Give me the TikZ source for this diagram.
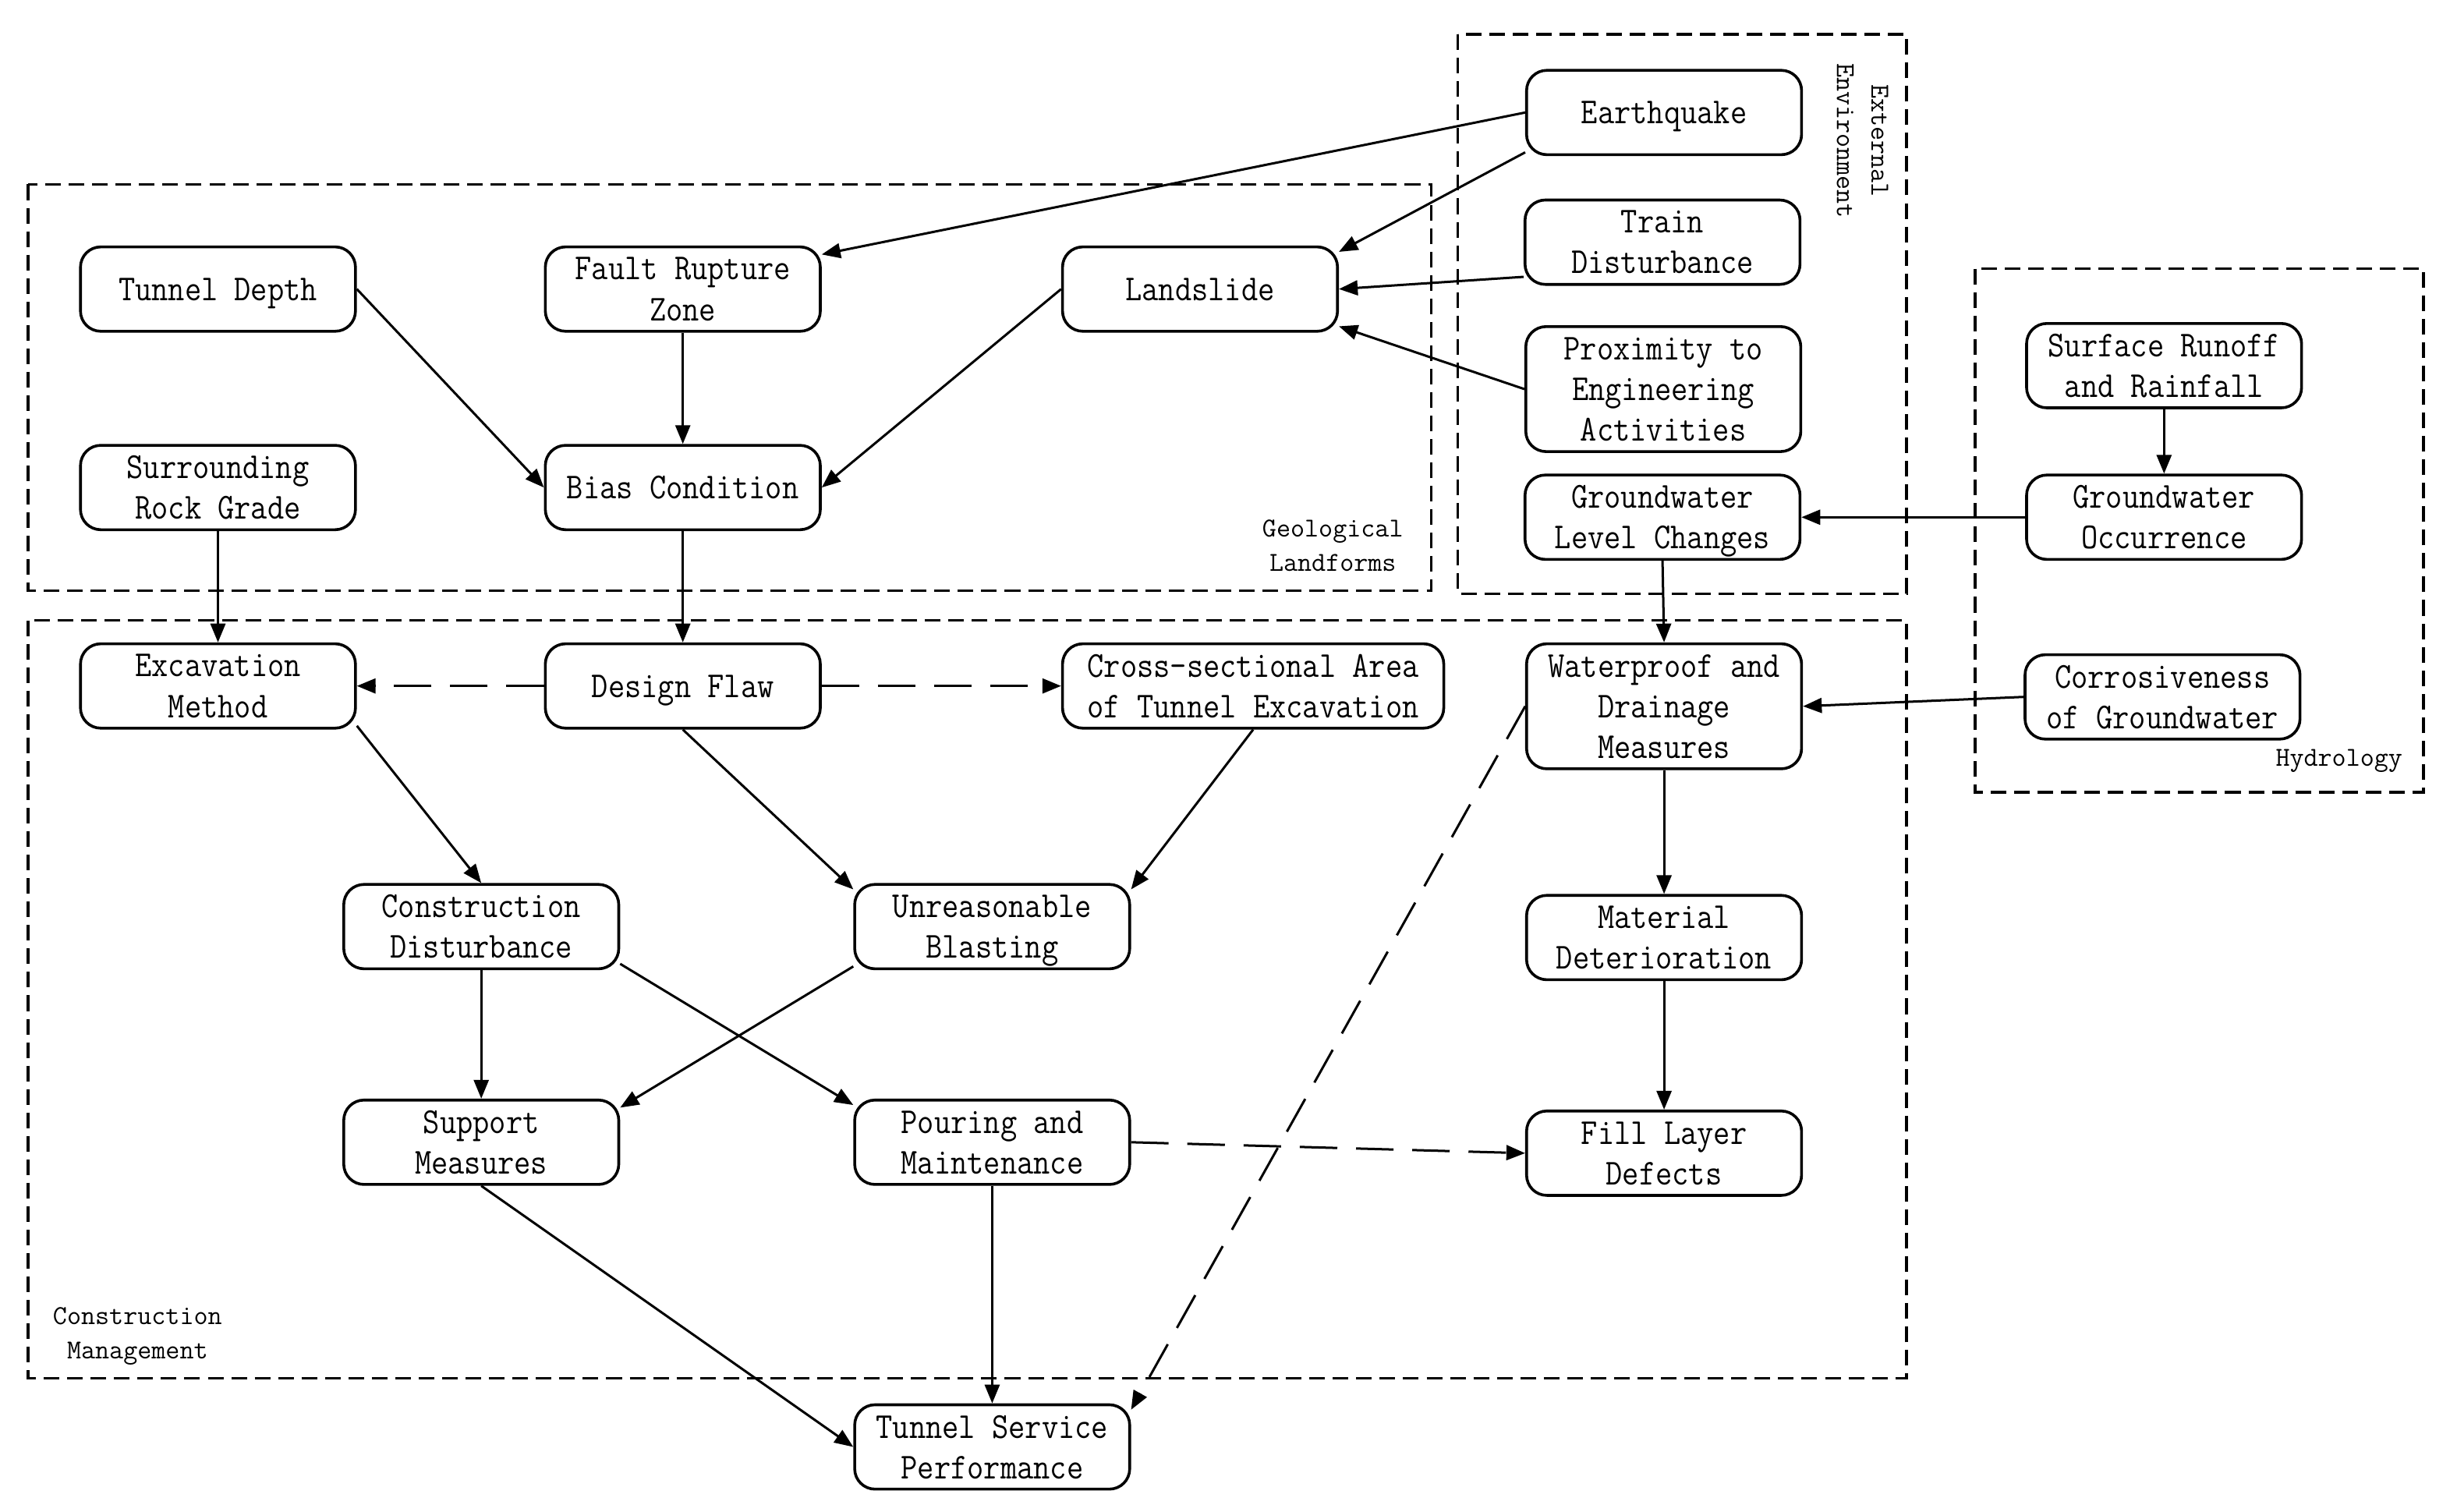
\documentclass[tikz,border=0pt]{standalone}
\usepackage{fontspec}
\usetikzlibrary{arrows.meta}
\newfontfamily\boxfont[FakeStretch=0.88]{Latin Modern Mono}
\newfontfamily\labfont{Latin Modern Mono}
\tikzset{
  box/.style={draw, line width=1.8pt, rounded corners=13pt, minimum width=176pt, minimum height=54pt,
    inner sep=0pt, align=center, text depth=0pt, font=\boxfont\fontsize{23.4}{26}\selectfont},
  lab/.style={inner sep=0pt, align=center, font=\labfont\fontsize{17.5}{22}\selectfont},
  grp/.style={line width=1.8pt, dash pattern=on 10pt off 5pt},
  arr/.style={line width=1.5pt, -{Triangle[length=12pt,width=9.5pt]}},
  darr/.style={arr, dash pattern=on 24pt off 12pt}
}
\begin{document}
\begin{tikzpicture}[x=1pt,y=-1pt]
\fill[white] (0,0) rectangle (1568,967.6);
\useasboundingbox (0,0) rectangle (1568,967.6);
% group frames
\draw[grp] (18,118) rectangle (916,378);
\draw[grp] (933,22) rectangle (1220,380);
\draw[grp] (18,397) rectangle (1220,882);
\draw[grp] (1264,172) rectangle (1551,507);
\node[lab] (glab) at (853,349) {Geological\\Landforms};
\node[lab, rotate=-90] (elab) at (1192,90) {External\\Environment};
\node[lab] (clab) at (88,855) {Construction\\Management};
\node[lab] (hlab) at (1497,487) {Hydrology};
% nodes
\node[box] (tdep) at (139.5,185) {Tunnel Depth};
\node[box] (frz) at (437,185) {Fault Rupture\\Zone};
\node[box] (ls) at (768,185) {Landslide};
\node[box] (srg) at (139.5,312) {Surrounding\\Rock Grade};
\node[box] (bias) at (437,312) {Bias Condition};
\node[box] (eq) at (1065,72) {Earthquake};
\node[box] (train) at (1064,155) {Train\\Disturbance};
\node[box, minimum height=80pt] (prox) at (1064.5,249) {Proximity to\\Engineering\\Activities};
\node[box] (glc) at (1064,331) {Groundwater\\Level Changes};
\node[box] (sr) at (1385,234) {Surface Runoff\\and Rainfall};
\node[box] (go) at (1385,331) {Groundwater\\Occurrence};
\node[box] (corr) at (1384,446) {Corrosiveness\\of Groundwater};
\node[box] (em) at (139.5,439) {Excavation\\Method};
\node[box] (df) at (437,439) {Design Flaw};
\node[box, minimum width=244pt] (csa) at (802,439) {Cross-sectional Area\\of Tunnel Excavation};
\node[box, minimum height=80pt] (wp) at (1065,452) {Waterproof and\\Drainage\\Measures};
\node[box] (cd) at (308,593) {Construction\\Disturbance};
\node[box] (ub) at (635,593) {Unreasonable\\Blasting};
\node[box] (md) at (1065,600) {Material\\Deterioration};
\node[box] (sm) at (308,731) {Support\\Measures};
\node[box] (pm) at (635,731) {Pouring and\\Maintenance};
\node[box] (fld) at (1065,738) {Fill Layer\\Defects};
\node[box] (tsp) at (635,926) {Tunnel Service\\Performance};
% connectors
\draw[arr] (eq.west) -- (frz.14);
\draw[arr] (eq.196) -- (ls.15);
\draw[arr] (train.194) -- (ls.east);
\draw[arr] (prox.west) -- (ls.-15);
\draw[arr] (tdep.east) -- (bias.west);
\draw[arr] (frz.south) -- (bias.north);
\draw[arr] (ls.west) -- (bias.east);
\draw[arr] (srg.south) -- (em.north);
\draw[arr] (bias.south) -- (df.north);
\draw[darr] (df.west) -- (em.east);
\draw[darr] (df.east) -- (csa.west);
\draw[arr] (em.-16) -- (cd.north);
\draw[arr] (df.south) -- (ub.165);
\draw[arr] (csa.south) -- (ub.15);
\draw[arr] (cd.south) -- (sm.north);
\draw[arr] (cd.-15) -- (pm.165);
\draw[arr] (ub.196) -- (sm.14);
\draw[arr] (sm.south) -- (tsp.west);
\draw[arr] (pm.south) -- (tsp.north);
\draw[darr] (pm.east) -- (fld.west);
\draw[darr] (wp.west) -- (tsp.15);
\draw[arr] (wp.south) -- (md.north);
\draw[arr] (md.south) -- (fld.north);
\draw[arr] (glc.south) -- (wp.north);
\draw[arr] (go.west) -- (glc.east);
\draw[arr] (sr.south) -- (go.north);
\draw[arr] (corr.west) -- (wp.east);
\end{tikzpicture}
\end{document}
